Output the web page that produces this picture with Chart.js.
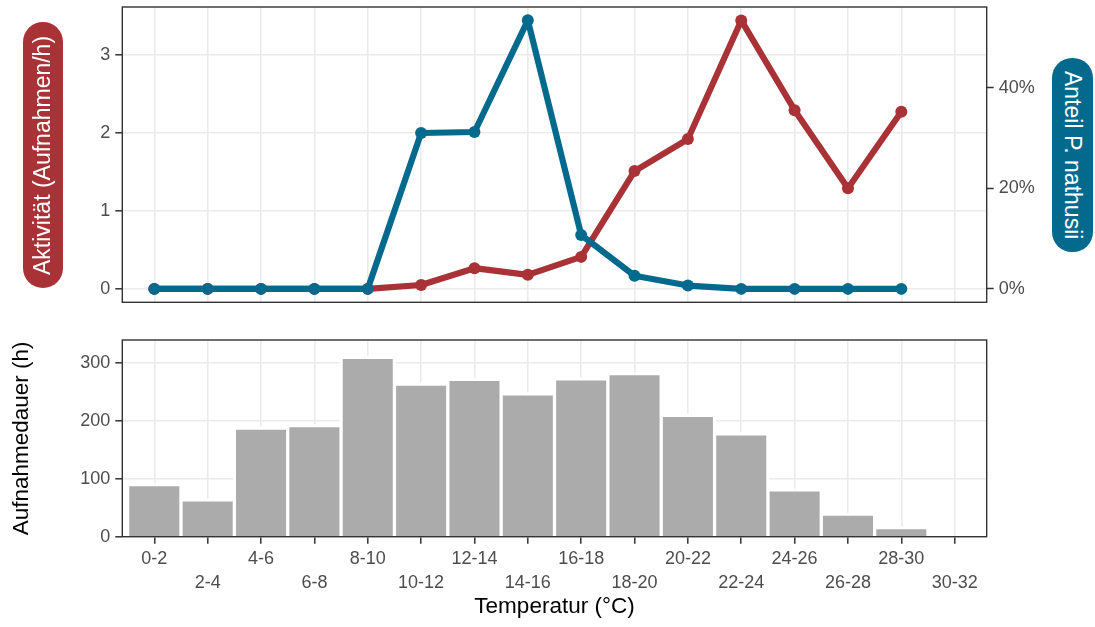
<!DOCTYPE html>
<html>
<head>
<meta charset="utf-8">
<script src="https://cdn.jsdelivr.net/npm/chart.js@4.4.0/dist/chart.umd.min.js"></script>
<style>
html,body{margin:0;padding:0;background:#fff;width:1095px;height:627px;overflow:hidden;font-family:"Liberation Sans",Arial,sans-serif}
#topWrap{position:absolute;left:0;top:0;width:1095px;height:315px}
#botWrap{position:absolute;left:0;top:330px;width:1095px;height:297px}
.pill{position:absolute;display:flex;align-items:center;justify-content:center;color:#fff;font-size:23px;writing-mode:vertical-rl;white-space:nowrap;font-family:"Liberation Sans",Arial,sans-serif;line-height:1}
#pillL{left:23px;top:22px;width:40px;height:266px;background:#A83236;border-radius:20px;transform:rotate(180deg)}
#pillR{left:1052px;top:58px;width:41px;height:194px;background:#036A8D;border-radius:20px}
</style>
</head>
<body>
<div id="topWrap"><canvas id="topChart" width="1095" height="315"></canvas></div>
<div id="botWrap"><canvas id="botChart" width="1095" height="297"></canvas></div>
<div class="pill" id="pillL">Aktivität (Aufnahmen/h)</div>
<div class="pill" id="pillR">Anteil P. nathusii</div>
<script>
// ---- data ----
const categories = ['0-2','2-4','4-6','6-8','8-10','10-12','12-14','14-16','16-18','18-20','20-22','22-24','24-26','26-28','28-30','30-32'];
const activity = [0, 0, 0, 0, 0, 0.05, 0.265, 0.18, 0.41, 1.51, 1.92, 3.44, 2.29, 1.29, 2.27];       // Aufnahmen/h
const shareNathusii = [0, 0, 0, 0, 0, 31.0, 31.2, 53.4, 10.7, 2.6, 0.66, 0, 0, 0, 0];                 // %
const recordingHours = [87, 61, 185, 189, 307, 261, 269, 244, 270, 279, 207, 175, 78, 36, 13, 0];     // h
const activityTicks = [0, 1, 2, 3];
const shareTicks = [0, 20, 40];
const hourTicks = [0, 100, 200, 300];

// ---- style ----
const RED = '#A83236', BLUE = '#036A8D', BAR = '#ABABAB';
const GRID = '#EBEBEB', FRAME = '#333333', TICKTXT = '#4D4D4D';
const FONT = '"Liberation Sans", Arial, sans-serif';
const PLOT_LEFT = 122.3, PLOT_RIGHT = 986.7, W = 1095;
const SHARE_PER_UNIT = 15.52; // secondary axis scaling (% per Aufnahmen/h)
const HALO = 3;

const framePlugin = {
  id: 'frame',
  afterDraw(c) {
    const a = c.chartArea, ctx = c.ctx;
    ctx.save();
    ctx.strokeStyle = FRAME; ctx.lineWidth = 1.4;
    ctx.strokeRect(a.left, a.top, a.right - a.left, a.bottom - a.top);
    ctx.restore();
  }
};

// white outline around bars (gridlines stop short of the bars)
const haloPlugin = {
  id: 'halo',
  beforeDatasetsDraw(c) {
    const ctx = c.ctx, a = c.chartArea;
    ctx.save();
    ctx.beginPath(); ctx.rect(a.left, a.top, a.right - a.left, a.bottom - a.top); ctx.clip();
    ctx.fillStyle = '#FFFFFF';
    c.getDatasetMeta(0).data.forEach(b => {
      const p = b.getProps(['x', 'y', 'base', 'width'], true);
      if (p.base - p.y <= 0.5) return;
      ctx.fillRect(p.x - p.width / 2 - HALO, p.y - HALO, p.width + 2 * HALO, p.base - p.y + HALO);
    });
    ctx.restore();
  }
};

function noPad(s) { s.paddingTop = 0; s.paddingBottom = 0; s.paddingLeft = 0; s.paddingRight = 0; }

function xScale(extra) {
  return Object.assign({
    type: 'linear', min: -0.6, max: 15.6, offset: false,
    afterBuildTicks: s => { s.ticks = categories.map((c, i) => ({ value: i })); },
    border: { display: false }
  }, extra);
}

function fixedTicks(list) {
  return s => { s.ticks = list.map(v => ({ value: v })); };
}

const yMin = -0.172, yMax = 3.612;

new Chart(document.getElementById('topChart'), {
  type: 'line',
  data: {
    datasets: [
      {
        label: 'Anteil P. nathusii', yAxisID: 'y2', order: 0,
        data: shareNathusii.map((v, i) => ({ x: i, y: v })),
        borderColor: BLUE, backgroundColor: BLUE, borderWidth: 6.2,
        pointRadius: 6, pointBorderWidth: 0, pointBackgroundColor: BLUE, tension: 0,
        borderJoinStyle: 'round', borderCapStyle: 'round'
      },
      {
        label: 'Aktivität', yAxisID: 'y', order: 1,
        data: activity.map((v, i) => ({ x: i, y: v })),
        borderColor: RED, backgroundColor: RED, borderWidth: 6.2,
        pointRadius: 6, pointBorderWidth: 0, pointBackgroundColor: RED, tension: 0,
        borderJoinStyle: 'round', borderCapStyle: 'round'
      }
    ]
  },
  options: {
    responsive: false, animation: false,
    layout: { padding: { top: 7, left: 0, right: 0, bottom: 0 } },
    plugins: { legend: { display: false }, tooltip: { enabled: false } },
    scales: {
      x: xScale({
        ticks: { display: false },
        grid: { color: GRID, lineWidth: 1.6, drawTicks: false, offset: false },
        afterFit: s => { noPad(s); s.height = 315 - 302.3; }
      }),
      y: {
        position: 'left', min: yMin, max: yMax,
        afterBuildTicks: fixedTicks(activityTicks),
        afterFit: s => { noPad(s); s.width = PLOT_LEFT; },
        border: { display: false },
        grid: { color: GRID, lineWidth: 1.6, tickColor: FRAME, tickLength: 7, tickWidth: 1.5 },
        ticks: { color: TICKTXT, font: { family: FONT, size: 18 }, padding: 5 }
      },
      y2: {
        position: 'right', min: yMin * SHARE_PER_UNIT, max: yMax * SHARE_PER_UNIT,
        afterBuildTicks: fixedTicks(shareTicks),
        afterFit: s => { noPad(s); s.width = W - PLOT_RIGHT; },
        border: { display: false },
        grid: { drawOnChartArea: false, tickColor: FRAME, tickLength: 7, tickWidth: 1.5 },
        ticks: { color: TICKTXT, font: { family: FONT, size: 18 }, padding: 5, callback: v => v + '%' }
      }
    }
  },
  plugins: [framePlugin]
});

new Chart(document.getElementById('botChart'), {
  type: 'bar',
  data: {
    datasets: [{
      label: 'Aufnahmedauer',
      data: recordingHours.map((v, i) => ({ x: i, y: v })),
      backgroundColor: BAR, borderWidth: 0,
      barPercentage: 0.938, categoryPercentage: 1
    }]
  },
  options: {
    responsive: false, animation: false,
    layout: { padding: { top: 10, left: 0, right: W - PLOT_RIGHT, bottom: 0 } },
    plugins: { legend: { display: false }, tooltip: { enabled: false } },
    scales: {
      x: xScale({
        grid: { color: GRID, lineWidth: 1.6, tickColor: FRAME, tickLength: 7, tickWidth: 1.5, offset: false },
        ticks: {
          color: TICKTXT, font: { family: FONT, size: 18, lineHeight: 1.333 }, padding: 3.8,
          autoSkip: false, maxRotation: 0, minRotation: 0,
          callback: v => (v % 2 === 0 ? categories[v] : ['', categories[v]])
        },
        title: { display: true, text: 'Temperatur (°C)', color: '#000', font: { family: FONT, size: 22.5 }, padding: { top: 0, bottom: 6.5 } },
        afterFit: s => { noPad(s); s.height = 297 - 206.7; }
      }),
      y: {
        min: 0, max: 340,
        afterBuildTicks: fixedTicks(hourTicks),
        afterFit: s => { noPad(s); s.width = PLOT_LEFT; },
        border: { display: false },
        grid: { color: GRID, lineWidth: 1.6, tickColor: FRAME, tickLength: 7, tickWidth: 1.5 },
        ticks: { color: TICKTXT, font: { family: FONT, size: 18 }, padding: 5 },
        title: { display: true, text: 'Aufnahmedauer (h)', color: '#000', font: { family: FONT, size: 22.5 }, padding: { top: 8.5, bottom: 0 } }
      }
    }
  },
  plugins: [haloPlugin, framePlugin]
});
</script>
</body>
</html>
